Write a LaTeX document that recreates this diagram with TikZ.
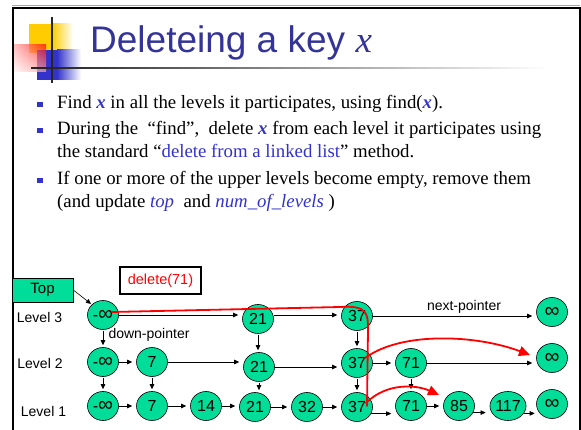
\documentclass[tikz,border=0pt]{standalone}
\usepackage{fontspec}
\setmainfont{Liberation Serif}
\newfontfamily\sansfnt{Liberation Sans}
\usetikzlibrary{arrows.meta,calc,shapes.geometric,shadings}

\definecolor{titleblue}{HTML}{333399}
\definecolor{linkblue}{HTML}{3333CC}
\definecolor{mint}{HTML}{00DD99}
\definecolor{logoyellow}{HTML}{FFCC00}
\definecolor{logoblue}{HTML}{3333CC}

\newcommand{\keyx}{{\color{linkblue}\bfseries\itshape x}}
\newcommand{\bigINF}{{\fontsize{21}{16}\selectfont ∞}}

\begin{document}
\begin{tikzpicture}[x=1pt,y=-1pt,
  nd/.style={ellipse, draw=black, line width=0.6pt, fill=mint,
    minimum width=31pt, minimum height=29pt, inner sep=0pt,
    font=\sansfnt\fontsize{16}{16}\selectfont},
  lbl/.style={inner sep=0pt, font=\sansfnt\fontsize{14}{14}\selectfont},
  bodyline/.style={anchor=base west, inner sep=0pt,
    font=\fontsize{18.8}{20}\selectfont},
  arr/.style={line width=0.6pt, -{Triangle[length=5pt,width=4.5pt]},
    shorten >=4pt},
  darr/.style={arr, shorten >=2pt, shorten <=1pt},
  redarr/.style={red, line width=1.8pt, line cap=round,
    -{Triangle[length=11pt,width=10pt]}},
  redline/.style={red, line width=1.8pt, line cap=round}]

\useasboundingbox (0,0) rectangle (581,430);
\fill[white] (0,0) rectangle (581,430);

% slide frame
\draw[black!35, line width=1pt] (12,6) -- (580,6);
\draw[black, line width=2pt] (12,8.5) -- (579.5,8.5) -- (579.5,430);
\draw[black, line width=2.5pt] (13,7.5) -- (13,430);

% logo: yellow, blue and translucent red squares with a cross
\fill[logoyellow] (29,24) rectangle (52,53);
\shade[left color=logoyellow, right color=white] (52,24) rectangle (73,53);
\fill[logoblue] (37,50) rectangle (57,80);
\shade[left color=logoblue, right color=white] (57,50) rectangle (81,80);
\shade[upper right=red, upper left=red!35, lower left=red!4,
  lower right=red!35, fill opacity=0.7] (14,45) rectangle (46,72);
\draw[black!85, line width=2pt] (52,17) -- (52,83);
\draw[black!85, line width=1.6pt] (31,68) -- (53,68);
\shade[left color=black!85, right color=white] (52,67.2) rectangle (548,68.8);

% title
\node[anchor=base west, inner sep=0pt, text=titleblue,
  font=\sansfnt\fontsize{37}{40}\selectfont] (title) at (90,53)
  {Deleteing a key {\rmfamily\itshape x}};

% bullet list
\foreach \by in {109,135,185}
  \fill[linkblue] (37,\by-7) rectangle (43,\by-2);
\node[bodyline] (b1) at (57,109)
  {Find \keyx{} in all the levels it participates, using find(\keyx).};
\node[bodyline] (b2) at (57,135)
  {During the\ \ “find”,\ \ delete \keyx{} from each level it participates using};
\node[bodyline] (b3) at (57,158)
  {the standard “{\color{linkblue}delete from a linked list}” method.};
\node[bodyline] (b4) at (57,185)
  {If one or more of the upper levels become empty, remove them};
\node[bodyline] (b5) at (57,208)
  {(and update {\color{linkblue}\itshape top}\ \ and {\color{linkblue}\itshape num\_of\_levels} )};

% boxes and labels
\node[draw, line width=0.6pt, fill=mint, minimum width=61pt, minimum height=24pt,
  inner sep=0pt, font=\sansfnt\fontsize{15}{15}\selectfont] (top) at (42.5,290) {Top};
\node[draw, line width=1.2pt, fill=white, minimum width=81pt, minimum height=27pt,
  inner sep=0pt, text=red, font=\sansfnt\fontsize{14.5}{14}\selectfont] (del)
  at (160.5,280.5) {delete(71)};
\node[lbl] (lv3) at (39.5,317) {Level 3};
\node[lbl] (lv2) at (40,363) {Level 2};
\node[lbl] (lv1) at (43.5,411) {Level 1};
\node[lbl] (down) at (149,335) {down-pointer};
\node[lbl] (next) at (464,307) {next-pointer};

% level 3
\node[nd] (m3)    at (103,315) {-\bigINF};
\node[nd] (n21c)  at (258,319) {21};
\node[nd] (n37c)  at (357,316) {37};
\node[nd] (inf3)  at (552,312) {\bigINF};
% level 2
\node[nd] (m2)    at (103,362) {-\bigINF};
\node[nd] (n7b)   at (152,362) {7};
\node[nd] (n21b)  at (259,367) {21};
\node[nd] (n37b)  at (357,363) {37};
\node[nd] (n71b)  at (411,363) {71};
\node[nd] (inf2)  at (552,358) {\bigINF};
% level 1
\node[nd] (m1)    at (103,406) {-\bigINF};
\node[nd] (n7a)   at (152,406) {7};
\node[nd] (n14a)  at (206,406) {14};
\node[nd] (n21a)  at (255,407) {21};
\node[nd] (n32a)  at (307,407) {32};
\node[nd] (n37a)  at (357,407) {37};
\node[nd] (n71a)  at (411,406) {71};
\node[nd] (n85a)  at (459,406) {85};
\node[nd] (n117a) at (508,406) {117};
\node[nd] (inf1)  at (552,404) {\bigINF};

% pointer from Top
\draw[arr, shorten >=1pt] (top.east) -- (m3.north west);

% next-pointers, level 3
\draw[arr] (m3.east) -- (m3.east -| n21c.west);
\draw[arr] (m3.east -| n21c.east) -- (m3.east -| n37c.west);
\draw[arr] (n37c.east) -- (n37c.east -| inf3.west);
% next-pointers, level 2
\draw[arr] (m2.east) -- (m2.east -| n7b.west);
\draw[arr] (n7b.east) -- (n7b.east -| n21b.west);
\draw[arr] (n21b.east) -- (n21b.east -| n37b.west);
\draw[arr] (n37b.east) -- (n37b.east -| n71b.west);
\draw[arr] (n71b.east) -- (n71b.east -| inf2.west);
% next-pointers, level 1
\draw[arr] (m1.east) -- (m1.east -| n7a.west);
\draw[arr] (n7a.east) -- (n7a.east -| n14a.west);
\draw[arr] (n14a.east) -- (n14a.east -| n21a.west);
\draw[arr] (n21a.east) -- (n21a.east -| n32a.west);
\draw[arr] (n32a.east) -- (n32a.east -| n37a.west);
\draw[arr] (n37a.-25) -- (n37a.-25 -| n71a.west);
\draw[arr] (n71a.east) -- (n71a.east -| n85a.west);
\draw[arr] (n85a.-25) -- (n85a.-25 -| n117a.west);
\draw[arr, shorten >=1.5pt] (n117a.-25) -- (n117a.-25 -| inf1.west);

% down-pointers
\draw[darr] (m3.south) -- (m2.north);
\draw[darr] (m2.south) -- (m1.north);
\draw[darr] (n7b.south) -- (n7a.north);
\draw[darr] (n21c.south) -- (n21c.south |- n21b.north);
\draw[darr] (n21b.south) -- (n21b.south |- n21a.north);
\draw[darr] (n37c.south) -- (n37b.north);
\draw[darr] (n37b.south) -- (n37a.north);
\draw[darr] (n71b.south) -- (n71a.north);

% search path of delete(71) and the relinked pointers
\draw[redline] ($(m3)+(9,-3)$) -- ($(n37c)+(-17,-9)$)
  .. controls ($(n37c)+(11,-11)$) and ($(n37c)+(11,-2)$) .. ($(n37c)+(11,14)$)
  -- ($(n37a)+(10,-1)$);
\draw[redarr] ($(n37b)+(8,-5)$)
  .. controls ($(n37b)+(45,-32)$) and ($(n37b)+(120,-28)$) .. ($(inf2)+(-22,-3)$);
\draw[redarr] ($(n37a)+(9,-4)$)
  .. controls ($(n37a)+(30,-25)$) and ($(n37a)+(60,-22)$) .. ($(n85a)+(-20,-11)$);
\end{tikzpicture}
\end{document}
